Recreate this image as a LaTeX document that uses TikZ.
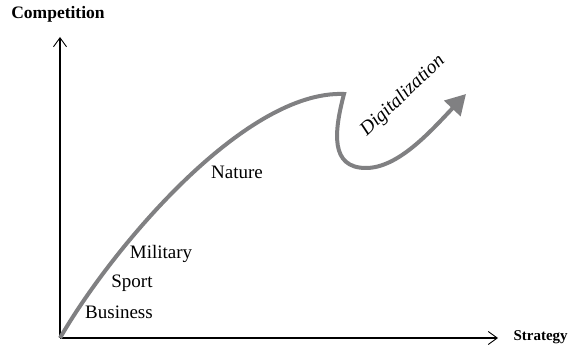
\documentclass[tikz,border=0pt]{standalone}
\usepackage{fontspec}
\setmainfont{Liberation Serif}
\usetikzlibrary{arrows.meta}
\definecolor{curvegray}{RGB}{128,128,130}
\tikzset{
  axis/.style={line width=1.1pt,-{Straight Barb[length=9pt,width=13pt,line width=0.9pt]}},
  axislabel/.style={font=\fontsize{15}{18}\selectfont\bfseries},
  curvelabel/.style={font=\fontsize{19}{22}\selectfont},
  trend/.style={line width=4pt,curvegray,line join=miter}
}
\begin{document}
\begin{tikzpicture}[x=1pt,y=1pt]
\useasboundingbox (0,0) rectangle (574,346);
\coordinate (O) at (60,8);
\coordinate (Ytop) at (60,309);
\coordinate (Xend) at (498,8);
\draw[axis] (O) -- (Ytop);
\draw[axis] (O) -- (Xend);
\node[axislabel,font=\fontsize{17.5}{20}\selectfont\bfseries] (comp) at (58,332) {Competition};
\node[axislabel,anchor=west] (strat) at (510,9) {Strategy};
\coordinate (peak) at (344,252);
\coordinate (low) at (366,178);
\coordinate (tip) at (466,252);
\draw[trend] (O) .. controls (112,98) and (245,256) .. (peak)
  .. controls (334,214) and (330,178) .. (low);
\draw[trend,-{Triangle[length=20pt,width=22pt]}] (low) .. controls (398,178) and (430,214) .. (tip);
\node[curvelabel] (nature) at (237,174) {Nature};
\node[curvelabel] (mil) at (161,92) {Military};
\node[curvelabel] (sport) at (132,63) {Sport};
\node[curvelabel] (bus) at (119,34) {Business};
\node[curvelabel,font=\fontsize{19.5}{22}\selectfont\itshape,rotate=43.5] (dig) at (403,250) {Digitalization};
\end{tikzpicture}
\end{document}
